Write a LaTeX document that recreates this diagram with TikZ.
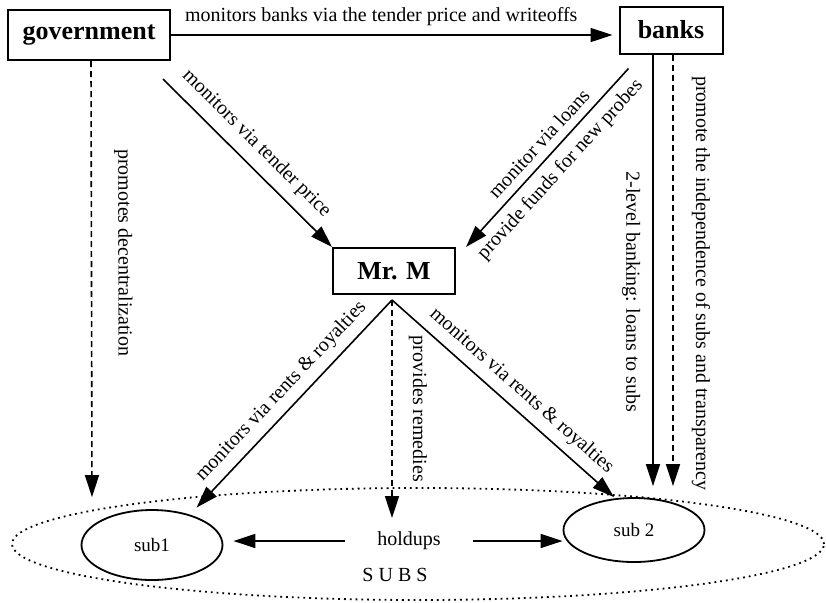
\documentclass[tikz,border=0pt]{standalone}
\usepackage{fontspec}
\setmainfont{Liberation Serif}
\usetikzlibrary{positioning, arrows.meta, shapes.geometric}

\begin{document}
\begin{tikzpicture}[x=0.5pt, y=-0.5pt,
  box/.style={rectangle, draw, line width=1pt, inner sep=0pt,
    font=\fontsize{13}{15}\selectfont\bfseries},
  sub/.style={ellipse, draw, line width=0.9pt, inner sep=0pt,
    minimum width=70.5pt, font=\fontsize{9.5}{11}\selectfont},
  lbl/.style={font=\fontsize{10}{12}\selectfont, inner sep=1pt},
  arr/.style={-{Triangle[length=11pt, width=7pt]}, line width=0.8pt},
  darr/.style={arr, dash pattern=on 3pt off 2pt}]
\useasboundingbox (0,0) rectangle (826,602);
\node[ellipse, draw, line width=0.9pt, dash pattern=on 0.9pt off 2pt,
  minimum width=406pt, minimum height=56pt] (subs) at (418,544) {};
\node[box, minimum width=81pt, minimum height=25pt] (gov) at (89,35) {government};
\node[box, minimum width=51.5pt, minimum height=23.5pt] (banks) at (671,30) {banks};
\node[box, minimum width=61pt, minimum height=23pt] (mrm) at (394,271) {Mr. M};
\node[sub, minimum height=35pt] (sub1) at (152,545) {sub1};
\node[sub, minimum height=32pt] (sub2) at (634,530) {sub 2};
\node[lbl] (hold) at (409,541) {holdups};
\node[lbl] (subslbl) at (395,575) {S U B S};
\coordinate (remedy) at (392,518);
\draw[arr, shorten >=3pt] (gov.east) -- (gov.east -| banks.west)
  node[lbl, pos=0.47, above=3pt] {monitors banks via the tender price and writeoffs};
\draw[arr] ([shift={(-8,18)}]gov.south east) -- (mrm.north west)
  node[lbl, pos=0.47, sloped, above=4pt] {monitors via tender price};
\draw[arr] ([shift={(10,14)}]banks.south west) -- ([xshift=5pt]mrm.north east)
  node[lbl, pos=0.48, sloped, above=3pt] {monitor via loans}
  node[lbl, pos=0.5, sloped, below=3pt] {provide funds for new probes};
\draw[arr] ([xshift=-9pt]banks.south) -- ([shift={(19,-11)}]sub2.north)
  node[lbl, pos=0.55, sloped, below=5pt] {2-level banking: loans to subs};
\draw[darr] ([xshift=1pt]banks.south) -- ([shift={(39,-11)}]sub2.north)
  node[lbl, pos=0.53, sloped, above=8pt] {promote the independence of subs and transparency};
\draw[darr] ([xshift=1pt]gov.south) -- ([shift={(-60,-12)}]sub1.north)
  node[lbl, pos=0.44, sloped, above=10pt] {promotes decentralization};
\draw[arr] ([shift={(-2,5)}]mrm.south) -- ([shift={(-6,-12)}]sub1.north east)
  node[lbl, pos=0.5, sloped, above=3pt] {monitors via rents \& royalties};
\draw[arr] ([shift={(-2,5)}]mrm.south) -- ([xshift=-10pt]sub2.north)
  node[lbl, pos=0.53, sloped, above=3pt] {monitors via rents \& royalties};
\draw[darr] ([shift={(-2,5)}]mrm.south) -- (remedy)
  node[lbl, pos=0.5, sloped, above=7pt] {provides remedies};
\draw[arr, shorten <=15pt, shorten >=5pt] (hold.west) -- (hold.west -| sub1.east);
\draw[arr, shorten <=15pt] (hold.east) -- (hold.east -| sub2.west);
\end{tikzpicture}
\end{document}
